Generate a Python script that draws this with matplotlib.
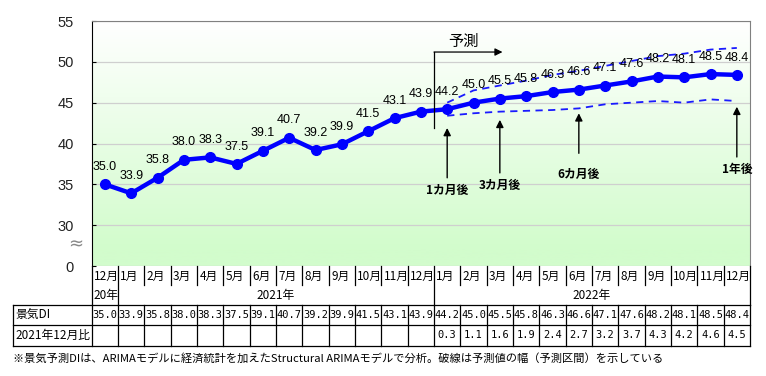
import matplotlib
matplotlib.use('Agg')
import matplotlib.pyplot as plt
import numpy as np
from matplotlib.transforms import blended_transform_factory
from matplotlib.lines import Line2D
from matplotlib.colors import LinearSegmentedColormap

plt.rcParams['font.family'] = ['Noto Sans CJK JP', 'DejaVu Sans']

# ---------------- data ----------------
months = ['12月', '1月', '2月', '3月', '4月', '5月', '6月', '7月', '8月', '9月', '10月', '11月', '12月',
          '1月', '2月', '3月', '4月', '5月', '6月', '7月', '8月', '9月', '10月', '11月', '12月']
di = [35.0, 33.9, 35.8, 38.0, 38.3, 37.5, 39.1, 40.7, 39.2, 39.9, 41.5, 43.1, 43.9,
      44.2, 45.0, 45.5, 45.8, 46.3, 46.6, 47.1, 47.6, 48.2, 48.1, 48.5, 48.4]
diff_vs_dec2021 = [0.3, 1.1, 1.6, 1.9, 2.4, 2.7, 3.2, 3.7, 4.3, 4.2, 4.6, 4.5]
upper_band = [45.0, 46.5, 47.1, 47.7, 48.4, 48.9, 49.5, 50.1, 50.7, 51.0, 51.5, 51.7]
lower_band = [43.4, 43.7, 43.9, 44.0, 44.1, 44.3, 44.8, 45.0, 45.2, 45.0, 45.4, 45.2]
year_labels = ['20年', '2021年', '2022年']
ytick_vals = [25, 30, 35, 40, 45, 50, 55]
ytick_labels = ['0', '30', '35', '40', '45', '50', '55']
row_labels = ['景気DI', '2021年12月比']
arrow_labels = ['1カ月後', '3カ月後', '6カ月後', '1年後']
arrow_months = [13, 15, 18, 24]
footnote = '※景気予測DIは、ARIMAモデルに経済統計を加えたStructural ARIMAモデルで分析。破線は予測値の幅（予測区間）を示している'

W, H = 766, 376
fig = plt.figure(figsize=(W / 100, H / 100), dpi=100)


def fx(px):
    return px / W


def fy(py):
    return 1 - py / H


ax_l, ax_r, ax_t, ax_b = 91.7, 750, 21, 266
ax = fig.add_axes([fx(ax_l), fy(ax_b), fx(ax_r) - fx(ax_l), fy(ax_t) - fy(ax_b)])

n = len(di)
x = np.arange(n)
ax.set_xlim(-0.5, n - 0.5)
ax.set_ylim(25, 55)

# gradient background
yy = np.linspace(25, 55, 300).reshape(-1, 1)
g = np.clip((yy - 27) / (55 - 27), 0, 1)
cmap = LinearSegmentedColormap.from_list('gw', ['#d2fccc', '#ffffff'])
ax.imshow(g, extent=(-0.5, n - 0.5, 25, 55), origin='lower', aspect='auto', cmap=cmap,
          vmin=0, vmax=1, zorder=0)

ax.set_axisbelow(True)
ax.set_yticks(ytick_vals)
ax.set_yticklabels(ytick_labels)
ax.yaxis.grid(True, color='#cfcfcf', lw=0.9)
ax.set_xticks([])
ax.tick_params(axis='y', direction='in', length=3, pad=13, labelsize=10.5, colors='black')
for lbl in ax.get_yticklabels():
    lbl.set_family(['Liberation Sans', 'DejaVu Sans'])
    lbl.set_color('#222222')
ax.spines['left'].set_color('black')
ax.spines['top'].set_color('#808080')
ax.spines['right'].set_color('#808080')
ax.spines['bottom'].set_visible(False)

# break mark
fig.text(fx(76), fy(244), '≈', ha='center', va='center', fontsize=13, color='#888888',
         family=['DejaVu Sans'])

# band lines
fc_idx = x[13:]
ax.plot(fc_idx, upper_band, color='#1a1aff', lw=1.3, ls=(0, (4, 3)), zorder=3)
ax.plot(fc_idx, lower_band, color='#1a1aff', lw=1.3, ls=(0, (4, 3)), zorder=3)

# main line
ax.plot(x, di, color='#0000ff', lw=3.2, marker='o', ms=7, zorder=4)
for i, v in enumerate(di):
    ax.annotate(f'{v:.1f}', (i, v), xytext=(0, 12.5), textcoords='offset points',
                ha='center', va='center', fontsize=9, family=['Liberation Sans', 'DejaVu Sans'],
                zorder=5)

# forecast bracket
ax.plot([12.5, 12.5], [41.9, 51.2], color='black', lw=0.9, zorder=5)
ax.annotate('', xy=(15.1, 51.2), xytext=(12.5, 51.2),
            arrowprops=dict(arrowstyle='-|>', color='black', lw=0.9, mutation_scale=11,
                            shrinkA=0, shrinkB=0), zorder=5)
ax.text(13.6, 52.45, '予測', ha='center', va='center', fontsize=11)

# horizon arrows
arrow_bottom = [35.8, 36.4, 38.8, 38.35]
arrow_top = [41.9, 42.9, 43.7, 44.5]
text_y = [34.3, 34.9, 36.2, 36.8]
for lab, m, yb, yt, ty in zip(arrow_labels, arrow_months, arrow_bottom, arrow_top, text_y):
    ax.annotate('', xy=(m, yt), xytext=(m, yb),
                arrowprops=dict(arrowstyle='-|>', color='black', lw=1.0, mutation_scale=11,
                                shrinkA=0, shrinkB=0), zorder=5)
    ax.text(m, ty, lab, ha='center', va='center', fontsize=8.5, fontweight='bold')

# ---------------- table ----------------
T = blended_transform_factory(ax.transData, fig.transFigure)
lw_t = 0.9


def vline(xd, p0, p1):
    fig.add_artist(Line2D([xd, xd], [fy(p0), fy(p1)], transform=T, color='black', lw=lw_t))


def hline(p):
    pos = ax.get_position()
    fig.add_artist(Line2D([fx(13), pos.x1], [fy(p), fy(p)], transform=fig.transFigure,
                          color='black', lw=lw_t))


# month row
for i, m in enumerate(months):
    fig.text(i - 0.5 + 0.09, fy(276), m, transform=T, ha='left', va='center', fontsize=8.5)
for b in np.arange(-0.5, n, 1.0):
    if b in (-0.5, 0.5, 12.5, n - 0.5):
        vline(b, 266, 305)
    else:
        vline(b, 266, 285)

# year row
fig.text(-0.5 + 0.05, fy(296), year_labels[0], transform=T, ha='left', va='center', fontsize=8.5)
fig.text(6.5, fy(296), year_labels[1], transform=T, ha='center', va='center', fontsize=8.5)
fig.text(18.5, fy(296), year_labels[2], transform=T, ha='center', va='center', fontsize=8.5)

# bottom rows
for p in (305, 325, 346):
    hline(p)
fig.add_artist(Line2D([fx(13), fx(13)], [fy(305), fy(346)], transform=fig.transFigure,
                      color='black', lw=lw_t))
for b in np.arange(-0.5, n, 1.0):
    vline(b, 305, 346)

fig.text(fx(15), fy(315), row_labels[0], ha='left', va='center', fontsize=8.5)
fig.text(fx(15), fy(335.5), row_labels[1], ha='left', va='center', fontsize=8.5)
for i, v in enumerate(di):
    fig.text(i, fy(315), f'{v:.1f}', transform=T, ha='center', va='center', fontsize=7.5,
             family=['DejaVu Sans Mono'])
for j, v in enumerate(diff_vs_dec2021):
    fig.text(13 + j, fy(335.5), f'{v:.1f}', transform=T, ha='center', va='center', fontsize=7.5,
             family=['DejaVu Sans Mono'])

fig.text(fx(13), fy(358), footnote, ha='left', va='center', fontsize=8.1)

fig.savefig('out.png', dpi=100)
